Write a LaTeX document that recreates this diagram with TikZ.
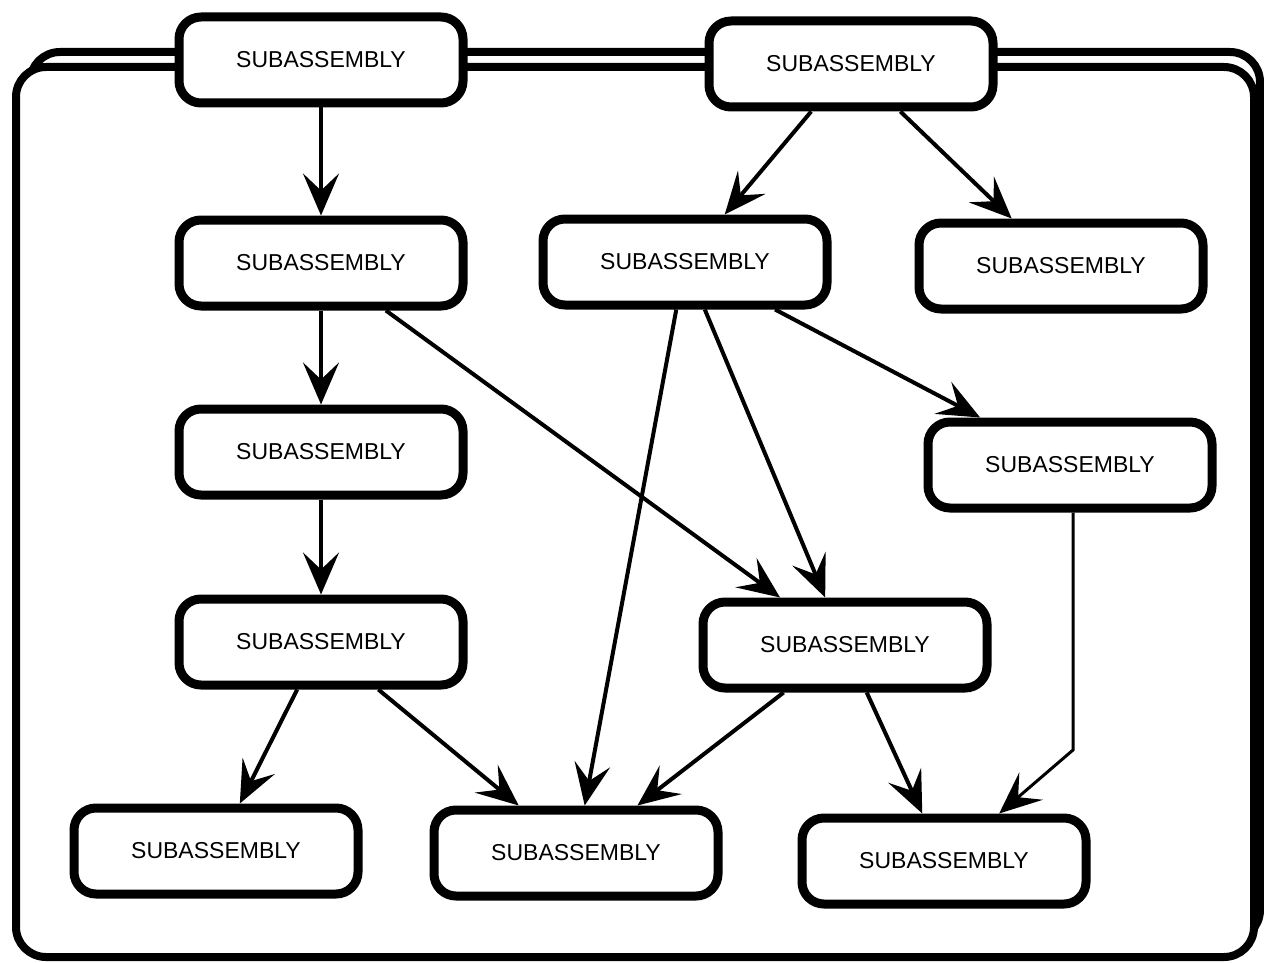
\documentclass[tikz,border=0pt]{standalone}
\usepackage{fontspec}
\setmainfont{Liberation Sans}
\usetikzlibrary{arrows.meta}
\begin{document}
\begin{tikzpicture}[x=1pt,y=-1pt,
  sub/.style={draw=black, fill=white, line width=9pt, rounded corners=22pt,
    minimum width=284pt, minimum height=86pt, inner sep=0pt,
    font=\fontsize{23}{27}\selectfont},
  link/.style={line width=4pt, -{Stealth[length=42pt,width=36pt,inset=17pt]}},
  frameline/.style={line width=8pt, rounded corners=30pt}]
\useasboundingbox (0,0) rectangle (1264,963);

% stacked outer frame: back sheet, then front sheet on top
\draw[frameline, fill=white] (30,52) rectangle (1260,940);
\draw[frameline, fill=white] (16,67) rectangle (1254,957);

% assembly nodes
\node[sub] (a1)  at (321,60)  {SUBASSEMBLY};
\node[sub] (a2)  at (851,64)  {SUBASSEMBLY};
\node[sub] (b1)  at (321,263) {SUBASSEMBLY};
\node[sub] (b2)  at (685,262) {SUBASSEMBLY};
\node[sub] (b3)  at (1061,266) {SUBASSEMBLY};
\node[sub] (c1)  at (321,452) {SUBASSEMBLY};
\node[sub] (c2)  at (1070,465) {SUBASSEMBLY};
\node[sub] (d1)  at (321,642) {SUBASSEMBLY};
\node[sub] (d2)  at (845,645) {SUBASSEMBLY};
\node[sub] (e1)  at (216,851) {SUBASSEMBLY};
\node[sub] (e2)  at (576,853) {SUBASSEMBLY};
\node[sub] (e3)  at (944,861) {SUBASSEMBLY};

% connections
\draw[link] (a1) -- (b1);
\draw[link] (a2) -- (b2);
\draw[link] (a2) -- (b3);
\draw[link] (b1) -- (c1);
\draw[link] (b1) -- (d2);
\draw[link] (b2) -- (e2);
\draw[link] (b2) -- (d2);
\draw[link] (b2) -- (c2);
\draw[link] (c1) -- (d1);
\draw[link] (d1) -- (e1);
\draw[link] (d1) -- (e2);
\draw[link] (d2) -- (e2);
\draw[link] (d2) -- (e3);
\coordinate (bend) at (1073,750);
\draw[link, line width=3pt] (bend |- c2.south) -- (bend) -- (e3);
\end{tikzpicture}
\end{document}
